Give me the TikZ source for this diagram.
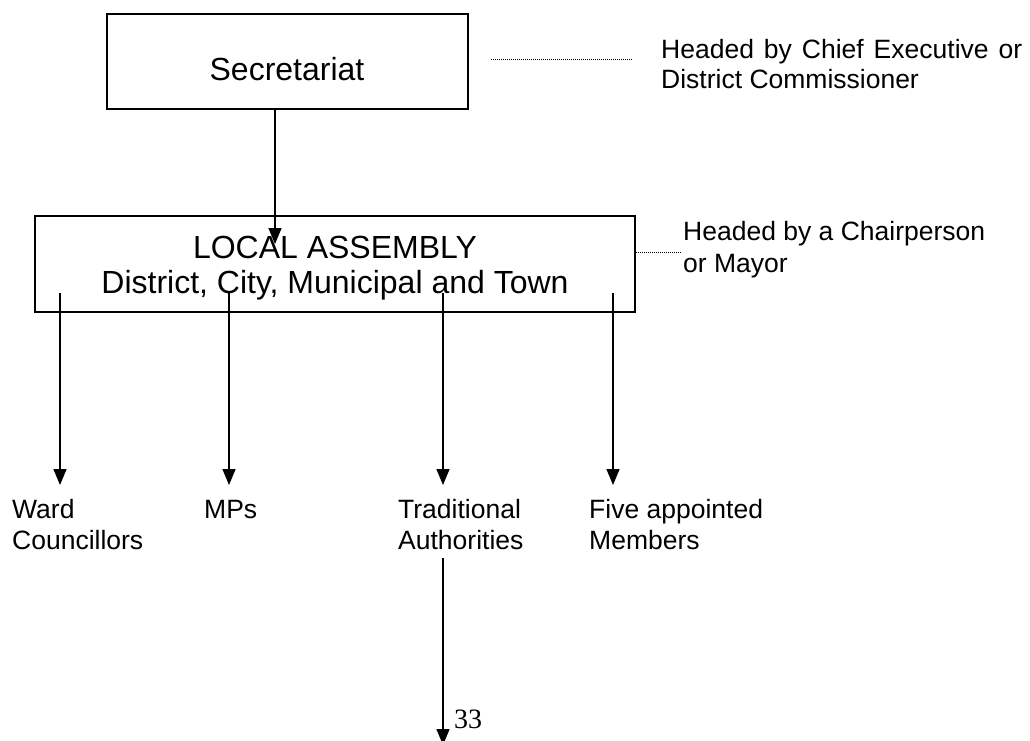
\documentclass[tikz,border=0pt]{standalone}
\usepackage{fontspec}
\setmainfont{Liberation Sans}
\newfontfamily\pagefont{Liberation Serif}
\usetikzlibrary{arrows.meta}
\begin{document}
\begin{tikzpicture}[x=1pt,y=-1pt,
  boxshape/.style={draw,line width=1.6pt,inner sep=0pt},
  bigtext/.style={inner sep=0pt,font=\fontsize{32}{35}\selectfont},
  labeltext/.style={inner sep=0pt,anchor=base west,align=left,font=\fontsize{26.5}{31}\selectfont},
  arr/.style={line width=1.4pt,-{Triangle[length=16pt,width=13pt]}},
  dotline/.style={line width=0.9pt,dash pattern=on 0.9pt off 1.1pt}]
\useasboundingbox (0,0) rectangle (1030,740);

% boxes
\node[boxshape,minimum width=361pt,minimum height=95pt] (sec) at (287.5,61.5) {};
\node[boxshape,minimum width=600pt,minimum height=96pt] (loc) at (335,264) {};

% box texts
\node[bigtext,anchor=base] (sectxt) at (287,80) {Secretariat};
\node[bigtext,anchor=base,align=center] (loctxt) at (335,293) {LOCAL ASSEMBLY\\District, City, Municipal and Town};

% notes
\coordinate (d1a) at (491,59);
\coordinate (d1b) at (632,59);
\draw[dotline] (d1a) -- (d1b);
\node[labeltext,font=\fontsize{26.5}{30}\selectfont] (note1) at (661,88) {\makebox[361pt][s]{Headed by Chief Executive or}\\District Commissioner};

\coordinate (d2b) at (680,252);
\draw[dotline] (loc.east |- d2b) -- (d2b);
\node[labeltext,font=\fontsize{26.5}{32}\selectfont] (note2) at (683,272) {Headed by a Chairperson\\or Mayor};

% arrow secretariat -> assembly
\coordinate (t0) at (275,244);
\draw[arr] (sec.south -| t0) -- (t0);

% bottom labels
\node[labeltext] (ward) at (12,549) {Ward\\Councillors};
\node[labeltext] (mps) at (204,518) {MPs};
\node[labeltext] (trad) at (398,549) {Traditional\\Authorities};
\node[labeltext] (five) at (589,549) {Five appointed\\Members};

% arrows assembly -> labels
\coordinate (s1) at (60,293);  \coordinate (e1) at (60,485);
\coordinate (s2) at (229,293); \coordinate (e2) at (229,485);
\coordinate (s3) at (443,293); \coordinate (e3) at (443,485);
\coordinate (s4) at (613,293); \coordinate (e4) at (613,485);
\draw[arr] (s1) -- (e1);
\draw[arr] (s2) -- (e2);
\draw[arr] (s3) -- (e3);
\draw[arr] (s4) -- (e4);

% arrow below traditional authorities
\coordinate (s5) at (443,558); \coordinate (e5) at (443,745);
\draw[arr] (s5) -- (e5);

% page number
\node[inner sep=0pt,anchor=base west,font=\pagefont\fontsize{28}{30}\selectfont] (pg) at (454,728) {33};
\end{tikzpicture}
\end{document}
